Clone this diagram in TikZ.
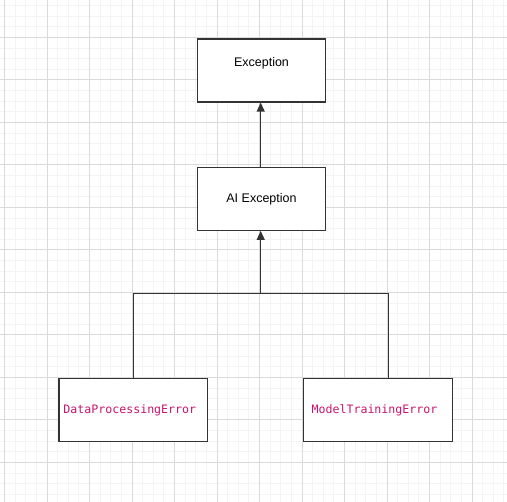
\documentclass[tikz,border=0pt]{standalone}
\usepackage{fontspec}
\setmainfont{Liberation Sans}
\newfontfamily\codefont{DejaVu Sans Mono}
\usetikzlibrary{arrows.meta}
\definecolor{codepink}{RGB}{199,21,110}
\definecolor{minorgrid}{RGB}{244,244,244}
\definecolor{majorgrid}{RGB}{218,218,218}
\tikzset{
  box/.style={draw=black!80, line width=1.2pt, fill=white, minimum width=128pt, minimum height=63pt, inner sep=0pt, font=\fontsize{12.5}{14}\selectfont},
  codebox/.style={box, minimum width=148.5pt, font=\codefont\fontsize{11.6}{13}\selectfont, text=codepink},
  conn/.style={draw=black!80, line width=1.2pt},
  arr/.style={conn, -{Triangle[length=9pt,width=8pt]}},
  plain/.style={font=\fontsize{12.5}{14}\selectfont, inner sep=0pt}
}
\begin{document}
\begin{tikzpicture}[x=1pt,y=-1pt]
\useasboundingbox (0,0) rectangle (507,502);
\fill[white] (0,0) rectangle (507,502);
% minor grid
\foreach \i in {0,...,48} {
  \draw[minorgrid, line width=0.6pt] ({4.3+\i*10.625},0) -- ({4.3+\i*10.625},502);
  \draw[minorgrid, line width=0.6pt] (0,{5.4+\i*10.625}) -- (507,{5.4+\i*10.625});
}
% major grid
\foreach \i in {0,...,12} {
  \draw[majorgrid, line width=0.6pt] ({4.3+\i*42.5},0) -- ({4.3+\i*42.5},502);
  \draw[majorgrid, line width=0.6pt] (0,{-5.2+\i*42.5}) -- (507,{-5.2+\i*42.5});
}
\node[box] (exc) at (261.5,70.5) {};
\node[plain] (exct) at (261.5,63.5) {Exception};
\node[box] (ai) at (261.5,198.8) {AI Exception};
\node[codebox] (dpe) at (133.3,410) {DataProcessingError\kern7pt};
\node[codebox] (mte) at (378,410) {ModelTrainingError\kern7pt};
\coordinate (j) at (260.7,293.3);
\coordinate (jl) at (133.7,293.3);
\coordinate (jr) at (388.5,293.3);
\draw[arr] (ai.north -| j) -- (exc.south -| j);
\draw[conn] (dpe.north -| jl) -- (jl) -- (jr) -- (mte.north -| jr);
\draw[arr] (j) -- (ai.south -| j);
\end{tikzpicture}
\end{document}
